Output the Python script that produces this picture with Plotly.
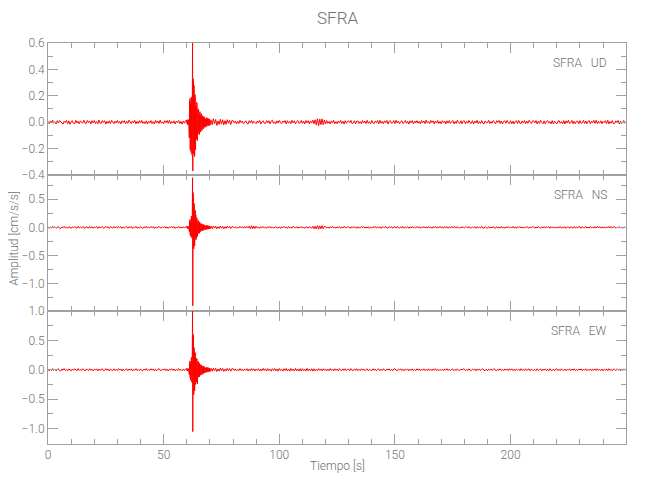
import numpy as np
import plotly.graph_objects as go

# ---------------- data (values in milli cm/s/s) ----------------
SCALE = 0.001
STATION = "SFRA"
COMPONENTS = ["UD", "NS", "EW"]

# time segments (s): pre-event, event, early coda, late coda
SEGMENTS = [(0.0, 60.0), (60.0, 70.0), (70.0, 80.0), (80.0, 250.0)]

UD_PRE = [6,-13,9,-4,15,-8,3,-14,11,-7,12,2,-10,-15,8,-3,13,-11,10,-16,
          4,11,-9,-12,14,-6,7,-13,10,0,-8,15,-6,-12,13,-3,9,-14,11,-5,
          12,-10,4,-13,16,-7,-9,12,-2,11,-15,6,-9,10,-11,14,-4,-12,8,-6,
          13,-8,5,-14,10,-3,12,-12,7,-9,15,-5,-11,9,-4,13,-13,6,-10,11,
          -7,14,-9,3,-12,10,-15,8,-5,12,-11,4,-14,13,-6,9,-10,15,-8,2,
          -13,11,-4,12,-9,14,-12,5,-7,10,-14,8,-3,13,-11,6,-15,9,-8,12]
UD_EVENT = [14,-9,18,-16,7,-20,15,-11,19,-17,
            70,-120,160,-90,180,-210,140,-180,120,-230,
            190,-150,170,-250,130,
            600,-370,330,-290,300,
            -240,280,-200,160,-260,210,-150,190,-210,120,
            -160,100,-130,150,-90,120,-140,70,-110,95,
            -70,100,-85,60,-95,75,-50,80,-65,55,
            -75,45,-60,65,-40,50,-62,35,-52,48,
            -35,42,-50,30,-44,38,-28,40,-36,27,
            -33,22,-38,30,-20,34,-29,18,-31,26,-22,30,-17,27,-25,16,-28,21,-15,24]
UD_MID = [-24,15,-19,26,-12,20,-25,9,-17,22,-14,18,-21,11,-16,19,-8,14,-18,12]
UD_CODA = [11,-5,9,-13,6,-11,14,-3,8,-12,4,10,-9,-14,11,-6,13,-10,7,-2,
           -12,9,-5,13,-15,4,10,-8,-11,12,-6,11,-13,7,15,-9,3,-12,10,-7,
           13,-4,-11,9,-2,12,-14,11,-8,5,-12,14,-5,10,-13,4,12,-9,-6,13,
           -9,8,-14,12,-4,11,-13,9,-7,15,-12,18,-22,26,-28,23,-19,25,-20,16,
           -14,12,-9,5,-13,10,-6,14,-11,3,-12,9,-4,13,-10,7,-15,11,-8,6,
           10,-3,13,-12,-6,11,-14,7,9,-10,4,-13,12,-5,8,-11,14,-9,3,-12,
           13,-6,-11,9,-3,12,-13,14,-8,5,-12,10,-4,13,-14,6,11,-9,-5,12,
           -10,14,-7,8,-12,4,11,-11,-3,13,-9,6,-15,10,-4,12,-13,9,-6,11,
           -8,6,-13,12,-4,9,-11,15,-6,4,-12,13,-3,10,-14,8,-7,12,-10,5,
           -12,11,-3,9,-14,10,-7,12,-10,4,13,-13,5,-9,15,-5,-11,11,-12,8,
           10,-13,7,-7,13,-5,-9,11,-14,8,-6,14,-11,5,-10,12,-8,-13,9,-4,
           -4,14,-11,5,-8,12,-6,-13,11,-2,13,-10,9,-14,6,10,-8,13,-5,-11,
           11,-12,7,-14,6,10,-10,13,-7,-11,9,-5,12,-12,8,-9,14,-3,-10,10,
           9,-5,12,-14,8,-9,14,-3,-12,10,-13,7,11,-7,4,-13,12,-14,8,-6,
           -13,7,11,-9,4,-11,12,-14,10,-6,14,-10,-5,13,-12,7,-12,6,9,-13,
           12,-8,-5,13,-10,9,-12,6,11,-13,8,-4,13,-9,14,-11,5,-8,10,-12,
           6,-4,11,-11,14,-13,5,-8,12,-12,-9,10,-6,13,-14,8,-11,4,12,-10]

NS_PRE = [13,-18,7,-12,19,-6,11,-16,4,14,-15,-19,9,-6,18,-11,7,-17,12,3,
          -17,10,-8,16,-5,-14,19,-11,8,-12,15,-7,-18,13,5,-13,17,-9,10,-16,
          8,-4,16,-19,12,-10,7,16,-14,-8,18,-6,11,-17,13,-6,-13,15,-12,9,
          -11,17,-5,12,-18,9,-14,6,15,-16,10,-3,13,-19,7,-10,18,-12,4,-15,
          14,-9,-16,11,-7,19,-13,8,-11,16,-4,12,-17,10,-15,6,17,-8,-12,13,
          -6,15,-14,9,-18,11,-5,16,-10,13,-17,7,-12,18,-9,4,-15,12,-13,10]
NS_EVENT = [18,-12,20,-17,9,-21,14,-19,16,-10,
            50,-70,110,-80,140,-130,90,-160,150,-120,
            200,-160,240,-190,260,
            880,-1390,620,-450,520,
            -380,430,-290,360,-330,240,-270,300,-180,220,
            -220,150,-180,170,-120,140,-160,90,-130,110,
            -90,120,-110,70,-100,95,-60,85,-80,60,
            -80,50,-62,70,-45,58,-66,40,-55,52,
            -40,50,-52,34,-46,42,-30,44,-38,30,
            -38,25,-41,33,-24,36,-32,20,-34,29,-25,32,-19,30,-27,18,-30,23,-17,26]
NS_MID = [-27,18,-22,25,-14,21,-26,12,-19,23,-15,20,-24,10,-17,22,-12,16,-20,14]
NS_CODA = [14,-9,11,-16,6,-12,18,-7,10,-15,13,-11,16,-8,24,-27,30,-25,22,-18,
           20,-14,10,-17,12,-5,15,-11,8,-16,12,-6,17,-13,9,-15,5,14,-10,-12,
           10,-18,13,-7,17,-9,4,-14,16,-12,7,-15,18,-4,-11,13,-16,9,-6,15,
           -13,8,-17,12,5,-14,16,-9,-12,18,-24,20,-28,31,-33,27,-26,29,-23,19,
           16,-12,7,-15,13,-8,17,-12,5,-14,11,-6,15,-16,9,-11,18,-7,-13,12,
           11,-16,9,-6,15,-13,11,-17,12,-8,-11,14,-5,16,-15,8,-10,13,-18,7,
           -11,14,-5,16,-15,10,-10,13,-18,7,12,-12,17,-9,-14,11,-4,15,-16,9,
           10,-12,17,-9,-14,11,-4,15,-16,9,-7,13,-17,10,-11,16,-9,6,-13,15,
           -7,13,-17,10,-11,16,-9,6,-13,15,-10,9,-16,12,-5,14,-15,10,-8,17,
           -10,9,-16,12,-5,14,-15,10,-8,17,-12,7,11,-14,16,-9,-13,9,-6,12,
           -12,7,11,-14,16,-9,-13,9,-6,12,-16,14,-10,5,-11,17,-10,-15,13,-8,
           -16,14,-10,5,-11,17,-10,-15,13,-8,8,-13,16,-11,7,-17,12,-6,14,-11,
           8,-13,16,-11,7,-17,12,-6,14,-11,10,-15,9,-12,17,-7,-14,11,-10,15,
           10,-15,9,-12,17,-7,-14,11,-10,15,-13,11,-5,14,-16,12,-9,10,-15,8,
           -13,11,-5,14,-16,12,-9,10,-15,8,11,-17,13,-8,-10,15,-12,8,-14,16,
           11,-17,13,-8,-10,15,-12,8,-14,16,-9,7,-15,12,-11,17,-10,14,-13,10,
           -9,7,-15,12,-11,17,-10,14,-13,10,12,-16,6,-10,15,-13,9,-17,11,-7]

EW_PRE = [16,-20,9,-13,21,-9,14,-18,5,17,-15,-21,11,-8,20,-12,8,-17,15,4,
          -19,13,-10,18,-7,-16,21,-11,9,-14,17,-9,-20,12,6,-15,19,-10,11,-18,
          10,-5,16,-21,14,-12,8,18,-16,-9,20,-7,11,-19,15,-10,-13,17,-14,9,
          -12,18,-6,14,-20,10,-15,7,17,-17,12,-4,15,-21,8,-11,19,-13,5,-16,
          15,-10,-17,12,-8,21,-14,9,-12,18,-5,13,-19,11,-16,7,19,-9,-13,14,
          -7,17,-15,10,-20,12,-6,18,-11,14,-19,8,-13,20,-10,5,-16,13,-14,11]
EW_EVENT = [20,-14,22,-19,11,-23,16,-21,18,-12,
            60,-80,120,-90,150,-140,100,-180,160,-130,
            210,-170,250,-220,230,
            1000,-1050,600,-580,560,
            -420,380,-300,330,-360,260,-230,290,-250,200,
            -250,170,-210,190,-150,160,-240,110,-160,130,
            -110,140,-125,90,-120,110,-80,100,-95,75,
            -95,65,-80,85,-60,72,-82,50,-66,62,
            -52,60,-62,42,-56,50,-38,52,-48,36,
            -46,30,-48,40,-28,42,-38,24,-40,34,-30,38,-22,35,-32,22,-36,28,-20,30]
EW_MID = [-31,22,-26,29,-17,25,-30,14,-23,27,-18,24,-28,12,-20,25,-15,19,-24,16]
EW_CODA = [18,-11,15,-20,8,-16,21,-13,10,-19,14,-8,19,-22,12,-17,23,-10,16,-21,
           14,-9,19,-22,12,-17,23,-11,16,-21,20,-14,9,-23,18,-12,22,-19,13,-24,
           21,-14,10,-23,18,-12,22,-19,13,-24,22,-15,11,-22,24,-17,13,-20,18,-23,
           20,-16,12,-22,24,-17,13,-20,18,-23,16,-19,11,-16,20,-9,14,-18,17,-10,
           15,-19,11,-16,20,-9,14,-18,17,-10,12,-17,19,-7,-14,16,-11,18,-15,8,
           12,-17,19,-7,-14,16,-11,18,-15,8,-13,17,-9,14,-18,6,15,-16,10,-12,
           -13,17,-9,14,-18,6,15,-16,10,-12,18,-8,-15,12,-5,17,-14,9,-17,13,
           18,-8,-15,12,-5,17,-14,9,-17,13,-6,15,-18,11,-10,16,-13,8,-15,17,
           -6,15,-18,11,-10,16,-13,8,-15,17,-11,9,-17,14,-5,18,-12,10,-16,7,
           -11,9,-17,14,-5,18,-12,10,-16,7,13,-15,6,-12,17,-9,-14,11,-4,16,
           13,-15,6,-12,17,-9,-14,11,-4,16,-18,12,-7,15,-13,5,18,-11,-15,10,
           -18,12,-7,15,-13,5,18,-11,-15,10,-8,16,-14,9,-17,13,-5,12,-16,18,
           -8,16,-14,9,-17,13,-5,12,-16,18,-10,7,-15,17,-12,4,14,-18,11,-6,
           -10,7,-15,17,-12,4,14,-18,11,-6,15,-13,9,-16,18,-8,-11,13,-17,10,
           15,-13,9,-16,18,-8,-11,13,-17,10,-5,16,-14,12,-9,17,-15,6,-12,14,
           -5,16,-14,12,-9,17,-15,6,-12,14,-17,11,-8,15,-13,18,-10,7,-16,13,
           -17,11,-8,15,-13,18,-10,7,-16,13,9,-14,17,-6,12,-18,8,-11,16,-9]

SERIES = {
    "UD": [UD_PRE, UD_EVENT, UD_MID, UD_CODA],
    "NS": [NS_PRE, NS_EVENT, NS_MID, NS_CODA],
    "EW": [EW_PRE, EW_EVENT, EW_MID, EW_CODA],
}

Y_RANGES = {"UD": [-0.4001, 0.6001], "NS": [-1.48, 0.93], "EW": [-1.26, 1.0001]}
Y_DTICK = {"UD": 0.2, "NS": 0.5, "EW": 0.5}
Y_MINOR = {"UD": 0.1, "NS": 0.25, "EW": 0.25}
DOMAINS = {"UD": [0.671, 1.0], "NS": [0.332, 0.671], "EW": [0.0, 0.332]}
X_RANGE = [0, 249.9]


def build(parts):
    ts, vs = [], []
    for (t0, t1), vals in zip(SEGMENTS, parts):
        ts.append(np.linspace(t0, t1, len(vals), endpoint=False))
        vs.append(np.asarray(vals, dtype=float) * SCALE)
    return np.concatenate(ts), np.concatenate(vs)


FONT = "Roboto, DejaVu Sans, sans-serif"
AX_COL = "#a0a0a0"
TXT_COL = "#707070"
TICKFONT = dict(family=FONT, size=12, color=TXT_COL, weight=300)

fig = go.Figure()
layout = {}
annotations = []
for i, comp in enumerate(COMPONENTS):
    n = i + 1
    t, v = build(SERIES[comp])
    xa = "x" if n == 1 else f"x{n}"
    ya = "y" if n == 1 else f"y{n}"
    fig.add_trace(go.Scatter(x=t, y=v, mode="lines", xaxis=xa, yaxis=ya,
                             line=dict(color="#ff0000", width=1),
                             showlegend=False, hoverinfo="skip"))
    xkey = "xaxis" if n == 1 else f"xaxis{n}"
    ykey = "yaxis" if n == 1 else f"yaxis{n}"
    layout[xkey] = dict(
        domain=[0, 1], anchor=ya, range=X_RANGE, tick0=0, dtick=50,
        ticks="inside", ticklen=10, tickcolor=AX_COL, tickwidth=1,
        showline=True, linecolor=AX_COL, linewidth=1, mirror="ticks",
        showgrid=False, zeroline=False, showticklabels=(n == 3), automargin=False,
        tickfont=TICKFONT,
        minor=dict(dtick=10, ticks="inside", ticklen=5, tickcolor=AX_COL, showgrid=False),
    )
    if n != 1:
        layout[xkey]["matches"] = "x"
    layout[ykey] = dict(
        domain=DOMAINS[comp], anchor=xa, range=Y_RANGES[comp], tick0=0,
        dtick=Y_DTICK[comp], tickformat=".1f", automargin=False,
        ticks="inside", ticklen=10, tickcolor=AX_COL, tickwidth=1,
        showline=True, linecolor=AX_COL, linewidth=1, mirror="ticks",
        showgrid=False, zeroline=False,
        tickfont=TICKFONT,
        minor=dict(dtick=Y_MINOR[comp], ticks="inside", ticklen=5, tickcolor=AX_COL, showgrid=False),
    )
    annotations.append(dict(
        text=f"{STATION}\u00a0\u00a0\u00a0{comp}", xref=f"{xa} domain", yref=f"{ya} domain",
        x=0.97, y=0.85, xanchor="right", yanchor="middle", showarrow=False,
        font=TICKFONT))

annotations += [
    dict(text=STATION, xref="paper", yref="paper", x=0.5, y=1.062, xanchor="center",
         yanchor="middle", showarrow=False, font=dict(family=FONT, size=17, color=TXT_COL, weight=300)),
    dict(text="Tiempo [s]", xref="paper", yref="paper", x=0.5, y=-0.055, xanchor="center",
         yanchor="middle", showarrow=False, font=TICKFONT),
    dict(text="Amplitud [cm/s/s]", xref="paper", yref="paper", x=-0.059, y=0.514,
         xanchor="center", yanchor="middle", textangle=-90, showarrow=False,
         font=TICKFONT),
]

# page body has an 8 px default margin: shrink the figure so the plot area lands where the reference has it
fig.update_layout(
    width=642, height=492,
    margin=dict(l=40, r=24, t=35, b=56),
    paper_bgcolor="white", plot_bgcolor="white",
    annotations=annotations,
    **layout,
)

fig.write_html("out.html")
